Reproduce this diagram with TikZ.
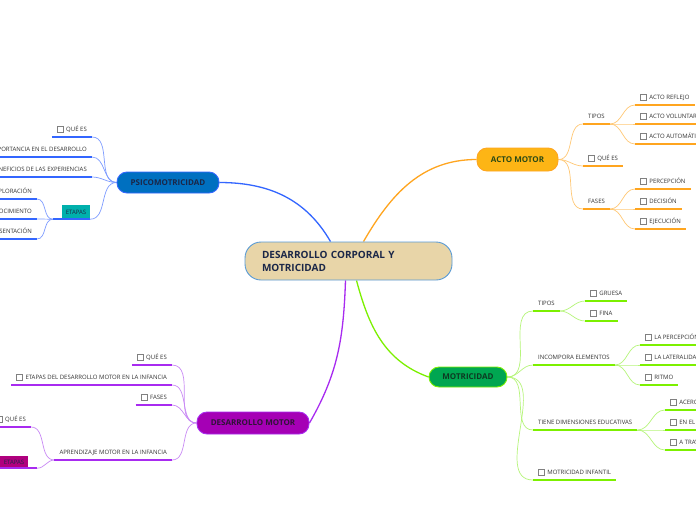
\documentclass[tikz,border=0pt]{standalone}
\usepackage{fontspec}
\setmainfont{Open Sans}
\usetikzlibrary{positioning,calc,backgrounds}

\definecolor{rootfill}{HTML}{E8D5A8}
\definecolor{rootline}{HTML}{5A9BD5}
\definecolor{navy}{HTML}{1B2748}
\definecolor{leaftext}{HTML}{333333}
\definecolor{psfill}{HTML}{0070C0}
\definecolor{psline}{HTML}{3366FF}
\definecolor{pslight}{HTML}{7E9CFF}
\definecolor{acfill}{HTML}{FDB515}
\definecolor{acline}{HTML}{FFA51F}
\definecolor{aclight}{HTML}{FFC875}
\definecolor{actext}{HTML}{2B4A14}
\definecolor{mofill}{HTML}{00A651}
\definecolor{moline}{HTML}{7CF000}
\definecolor{molight}{HTML}{B6F57A}
\definecolor{motext}{HTML}{0D3A22}
\definecolor{dmfill}{HTML}{A500B5}
\definecolor{dmline}{HTML}{A82BF0}
\definecolor{dmlight}{HTML}{C98AF5}
\definecolor{dmtext}{HTML}{2E1436}
\definecolor{tealbox}{HTML}{00B0AC}
\definecolor{magbox}{HTML}{B0007E}

\newcommand{\chk}{{\setlength{\fboxsep}{0pt}\setlength{\fboxrule}{0.6pt}\fcolorbox{gray}{white}{\rule{0pt}{5.5pt}\rule{5.5pt}{0pt}}}\hspace{2.5pt}}

\begin{document}
\begin{tikzpicture}[x=1pt, y=-1pt,
        topic/.style={rectangle, rounded corners=10pt, draw, line width=0.9pt, inner sep=0pt, font=\fontsize{8}{9}\selectfont\bfseries},
        leafl/.style={anchor=south east, inner xsep=5pt, inner ysep=5pt, text height=4.3pt, text depth=0pt, text=leaftext, font=\fontsize{6}{7}\selectfont},
        leafr/.style={leafl, anchor=south west},
        tag/.style={rectangle, minimum width=28pt, inner sep=0pt, text=navy, font=\fontsize{6}{7}\selectfont},
        uline/.style={draw=#1, line width=1.6pt},
        sub/.style={draw=#1, line width=0.7pt},
        branch/.style={draw=#1, line width=1.3pt}]

        \useasboundingbox (0,0) rectangle (696,520);

        % main topics
        \node[topic, fill=rootfill, draw=rootline, rounded corners=16pt, minimum width=207pt, minimum height=38pt, text width=173pt, align=left, text=navy, font=\fontsize{10}{13}\selectfont\bfseries] (root) at (348.5,261) {DESARROLLO CORPORAL Y\\MOTRICIDAD};
        \node[topic, fill=psfill, draw=psline, minimum width=102pt, minimum height=21pt, text=navy] (psico) at (168,182.5) {PSICOMOTRICIDAD};
        \node[topic, fill=acfill, draw=acline, minimum width=81pt, minimum height=23pt, text=actext] (acto) at (517.5,159.5) {ACTO MOTOR};
        \node[topic, fill=mofill, draw=moline, minimum width=78pt, minimum height=20pt, text=motext] (motri) at (468,377) {MOTRICIDAD};
        \node[topic, fill=dmfill, draw=dmline, minimum width=112pt, minimum height=22pt, text=dmtext] (desmot) at (253,423) {DESARROLLO MOTOR};

        % psicomotricidad
        \node[leafl] (q1) at (92,137) {\chk QUÉ ES};
        \node[leafl] (imp) at (92,157) {IMPORTANCIA EN EL DESARROLLO};
        \node[leafl] (ben) at (92,177) {BENEFICIOS DE LAS EXPERIENCIAS};
        \node[tag, fill=tealbox, minimum height=14pt] (etp) at (76,212) {ETAPAS};
        \node[leafl] (expl) at (37,199) {EXPLORACIÓN};
        \node[leafl] (cono) at (37,219) {CONOCIMIENTO};
        \node[leafl] (repr) at (37,239) {REPRESENTACIÓN};

        % desarrollo motor
        \node[leafl] (dq) at (172,365) {\chk QUÉ ES};
        \node[leafl] (det) at (172,385) {\chk ETAPAS DEL DESARROLLO MOTOR EN LA INFANCIA};
        \node[leafl] (dfa) at (172,405) {\chk FASES};
        \node[leafl] (dap) at (172,460) {APRENDIZAJE MOTOR EN LA INFANCIA};
        \node[leafl] (dq2) at (31,427) {\chk QUÉ ES};
        \node[tag, fill=magbox, minimum height=12pt] (dep) at (14,462) {ETAPAS};

        % acto motor
        \node[leafr] (at) at (583,124) {TIPOS};
        \node[leafr] (aq) at (583,166) {\chk QUÉ ES};
        \node[leafr] (af) at (583,209) {FASES};
        \node[leafr] (ar) at (635,105) {\chk ACTO REFLEJO};
        \node[leafr] (av) at (635,124) {\chk ACTO VOLUNTARIO};
        \node[leafr] (aa) at (635,144) {\chk ACTO AUTOMÁTICO};
        \node[leafr] (ap) at (635,189) {\chk PERCEPCIÓN};
        \node[leafr] (ad) at (635,209) {\chk DECISIÓN};
        \node[leafr] (ae) at (635,229) {\chk EJECUCIÓN};

        % motricidad
        \node[leafr] (mt) at (533,311) {TIPOS};
        \node[leafr] (mi) at (533,365) {INCOMPORA ELEMENTOS};
        \node[leafr] (md) at (533,430) {TIENE DIMENSIONES EDUCATIVAS};
        \node[leafr] (mm) at (533,480) {\chk MOTRICIDAD INFANTIL};
        \node[leafr] (mg) at (585,301) {\chk GRUESA};
        \node[leafr] (mf) at (585,321) {\chk FINA};
        \node[leafr] (mp) at (640,345) {\chk LA PERCEPCIÓN};
        \node[leafr] (ml) at (640,365) {\chk LA LATERALIDAD};
        \node[leafr] (mr) at (640,385) {\chk RITMO};
        \node[leafr] (ma) at (665,410) {\chk ACERCA DEL MOVIMIENTO};
        \node[leafr] (me) at (665,430) {\chk EN EL MOVIMIENTO};
        \node[leafr] (mat) at (665,450) {\chk A TRAVÉS DEL MOVIMIENTO};

        % underlines
        \foreach \n in {q1,imp,ben,expl,cono,repr}
            \draw[uline=psline] (\n.south west) -- (\n.south east);
        \draw[uline=psline] ([xshift=-9pt]etp.south west) -- (etp.south east);
        \foreach \n in {dq,det,dfa,dap,dq2}
            \draw[uline=dmline] (\n.south west) -- (\n.south east);
        \draw[uline=dmline] (dep.south west) -- ([xshift=9pt]dep.south east);
        \foreach \n in {at,aq,af,ar,av,aa,ap,ad,ae}
            \draw[uline=acline] (\n.south west) -- (\n.south east);
        \foreach \n in {mt,mi,md,mm,mg,mf,mp,ml,mr,ma,me,mat}
            \draw[uline=moline] (\n.south west) -- (\n.south east);

        % connectors
        \begin{scope}[on background layer]
            \fill[white] (0,0) rectangle (696,520);
            \draw[branch=psline] ([xshift=-18pt]root.north) to[out=120,in=0] (psico.east);
            \draw[branch=acline] ([xshift=15pt]root.north) to[out=60,in=180] (acto.west);
            \draw[branch=dmline] ([xshift=-3pt]root.south) to[out=-92,in=60] (desmot.east);
            \draw[branch=moline] ([xshift=8pt]root.south) to[out=-75,in=160] (motri.west);

            \foreach \n in {q1,imp,ben,etp}
                \draw[sub=pslight] (psico.west) to[out=180,in=0] (\n.south east);
            \foreach \n in {expl,cono,repr}
                \draw[sub=pslight] ([xshift=-9pt]etp.south west) to[out=180,in=0] (\n.south east);

            \foreach \n in {dq,det,dfa,dap}
                \draw[sub=dmlight] (desmot.west) to[out=180,in=0] (\n.south east);
            \draw[sub=dmlight] (dap.south west) to[out=180,in=0] (dq2.south east);
            \draw[sub=dmlight] (dap.south west) to[out=180,in=0] ([xshift=9pt]dep.south east);

            \foreach \n in {at,aq,af}
                \draw[sub=aclight] (acto.east) to[out=0,in=180] (\n.south west);
            \foreach \n in {ar,av,aa}
                \draw[sub=aclight] (at.south east) to[out=0,in=180] (\n.south west);
            \foreach \n in {ap,ad,ae}
                \draw[sub=aclight] (af.south east) to[out=0,in=180] (\n.south west);

            \foreach \n in {mt,mi,md,mm}
                \draw[sub=molight] (motri.east) to[out=0,in=180] (\n.south west);
            \foreach \n in {mg,mf}
                \draw[sub=molight] (mt.south east) to[out=0,in=180] (\n.south west);
            \foreach \n in {mp,ml,mr}
                \draw[sub=molight] (mi.south east) to[out=0,in=180] (\n.south west);
            \foreach \n in {ma,me,mat}
                \draw[sub=molight] (md.south east) to[out=0,in=180] (\n.south west);
        \end{scope}

    \end{tikzpicture}
\end{document}
